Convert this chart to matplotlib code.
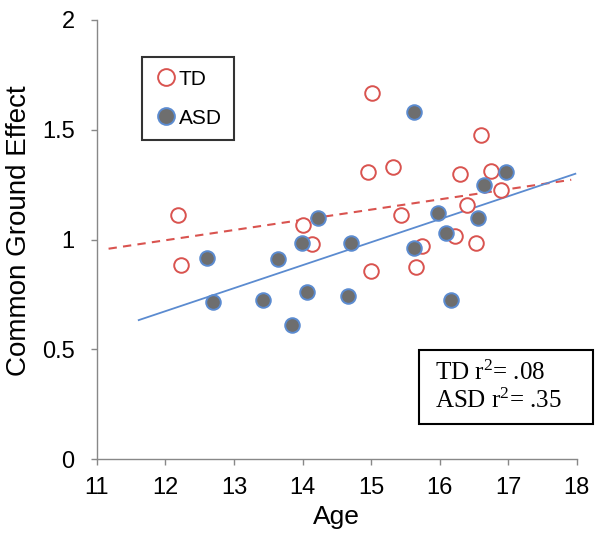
import matplotlib
matplotlib.use("Agg")
import matplotlib.pyplot as plt
from matplotlib.patches import Rectangle
import numpy as np

td_age = [12.18, 12.22, 14.00, 14.14, 15.02, 14.96, 15.00, 15.32, 15.43, 15.65,
          15.75, 16.22, 16.29, 16.40, 16.53, 16.60, 16.75, 16.89]
td_eff = [1.114, 0.885, 1.067, 0.982, 1.668, 1.307, 0.855, 1.331, 1.114, 0.877,
          0.972, 1.018, 1.298, 1.156, 0.983, 1.477, 1.313, 1.225]

asd_age = [12.61, 12.69, 13.42, 13.64, 13.84, 13.99, 14.06, 14.22, 14.67, 14.70,
           15.63, 15.62, 15.97, 16.10, 16.17, 16.56, 16.65, 16.97]
asd_eff = [0.917, 0.718, 0.723, 0.911, 0.613, 0.985, 0.762, 1.097, 0.743, 0.985,
           1.582, 0.963, 1.120, 1.032, 0.727, 1.100, 1.249, 1.309]

# fitted trend lines: (slope, intercept, x-range)
td_fit = (0.0465, 0.439, [11.17, 17.92])
asd_fit = (0.1046, -0.581, [11.61, 17.98])

x_ticks = [11, 12, 13, 14, 15, 16, 17, 18]
y_ticks = [0, 0.5, 1, 1.5, 2]
y_ticklabels = ["0", "0.5", "1", "1.5", "2"]

plt.rcParams['font.family'] = ['Liberation Sans', 'DejaVu Sans']
plt.rcParams['mathtext.fontset'] = 'custom'
plt.rcParams['mathtext.rm'] = 'Liberation Serif'
plt.rcParams['mathtext.it'] = 'Liberation Serif:italic'

fig = plt.figure(figsize=(6.02, 5.39), dpi=100)
ax = fig.add_axes([0.161, 0.148, 0.797, 0.815])

red = "#d9534f"
blue = "#5b8bd0"
gray = "#6e6e6e"

# lines
xs = np.array(td_fit[2])
ax.plot(xs, td_fit[0] * xs + td_fit[1], color=red, lw=1.5, ls=(0, (4, 3)), zorder=2)
xs = np.array(asd_fit[2])
ax.plot(xs, asd_fit[0] * xs + asd_fit[1], color=blue, lw=1.3, zorder=2)

ax.plot(td_age, td_eff, 'o', ms=10.5, mfc='white', mec=red, mew=1.4,
        ls='none', label='TD', zorder=3)
ax.plot(asd_age, asd_eff, 'o', ms=10.5, mfc=gray, mec=blue, mew=1.4,
        ls='none', label='ASD', zorder=4)

ax.set_xlim(11, 18)
ax.set_ylim(0, 2)
ax.set_xticks(x_ticks)
ax.set_yticks(y_ticks)
ax.set_yticklabels(y_ticklabels)
for s in ['top', 'right']:
    ax.spines[s].set_visible(False)
for s in ['left', 'bottom']:
    ax.spines[s].set_color('#888888')
    ax.spines[s].set_linewidth(1.0)
ax.tick_params(axis='both', labelsize=17, color='#888888', length=4, width=1.0,
               direction='out')
ax.tick_params(axis='x', pad=9)
ax.tick_params(axis='y', pad=12)
ax.set_xlabel('Age', fontsize=19, labelpad=4)
ax.set_ylabel('Common Ground Effect', fontsize=20)
ax.yaxis.set_label_coords(-0.135, 0.52)

leg = ax.legend(loc='upper left', bbox_to_anchor=(0.094, 0.915), fontsize=15,
                frameon=True, fancybox=False, edgecolor='black',
                handletextpad=0.05, handlelength=1.1, borderpad=0.6,
                labelspacing=0.95, borderaxespad=0, markerscale=1.15)
leg.get_frame().set_linewidth(1.5)

ax.add_patch(Rectangle((0.671, 0.08), 0.362, 0.168, transform=ax.transAxes,
                       fc='white', ec='black', lw=1.5, clip_on=False, zorder=5))
ax.text(0.704, 0.164, 'TD r$^{2}$= .08\nASD r$^{2}$= .35', transform=ax.transAxes,
        fontsize=18, family=['Liberation Serif', 'DejaVu Serif'],
        linespacing=1.2, ha='left', va='center', zorder=6)

fig.savefig('out.png', dpi=100)
